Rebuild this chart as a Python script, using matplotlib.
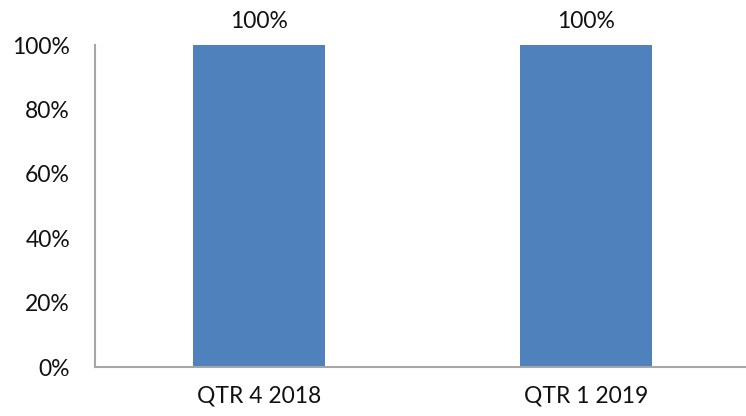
import numpy as np
import matplotlib.pyplot as plt
from matplotlib.ticker import PercentFormatter

categories = ["QTR 4 2018", "QTR 1 2019"]
values = [100, 100]

plt.rcParams['font.family'] = ['Lato', 'DejaVu Sans']

fig = plt.figure(figsize=(7.46, 4.16), dpi=100)
ax = fig.add_axes([95/746, 1 - 367/416, 655/746, 322/416])

x = np.arange(len(categories))
bars = ax.bar(x, values, width=0.403, color="#4F81BD")
for b, v in zip(bars, values):
    ax.text(b.get_x() + b.get_width()/2, v + 4, f"{v}%", ha="center", va="bottom",
            fontsize=16.5, color="#111111")

ax.set_xlim(-0.5, 1.5)
ax.set_ylim(0, 100)
ax.set_yticks(range(0, 101, 20))
ax.yaxis.set_major_formatter(PercentFormatter(decimals=0))
ax.set_xticks(x)
ax.set_xticklabels(categories)
ax.tick_params(length=0, labelsize=16.5, colors="#111111")
ax.tick_params(axis="y", pad=18)
ax.tick_params(axis="x", pad=13)

for s in ["top", "right"]:
    ax.spines[s].set_visible(False)
for s in ["left", "bottom"]:
    ax.spines[s].set_color("#A6A6A6")
    ax.spines[s].set_linewidth(1.5)

fig.savefig("out.png", dpi=100)
